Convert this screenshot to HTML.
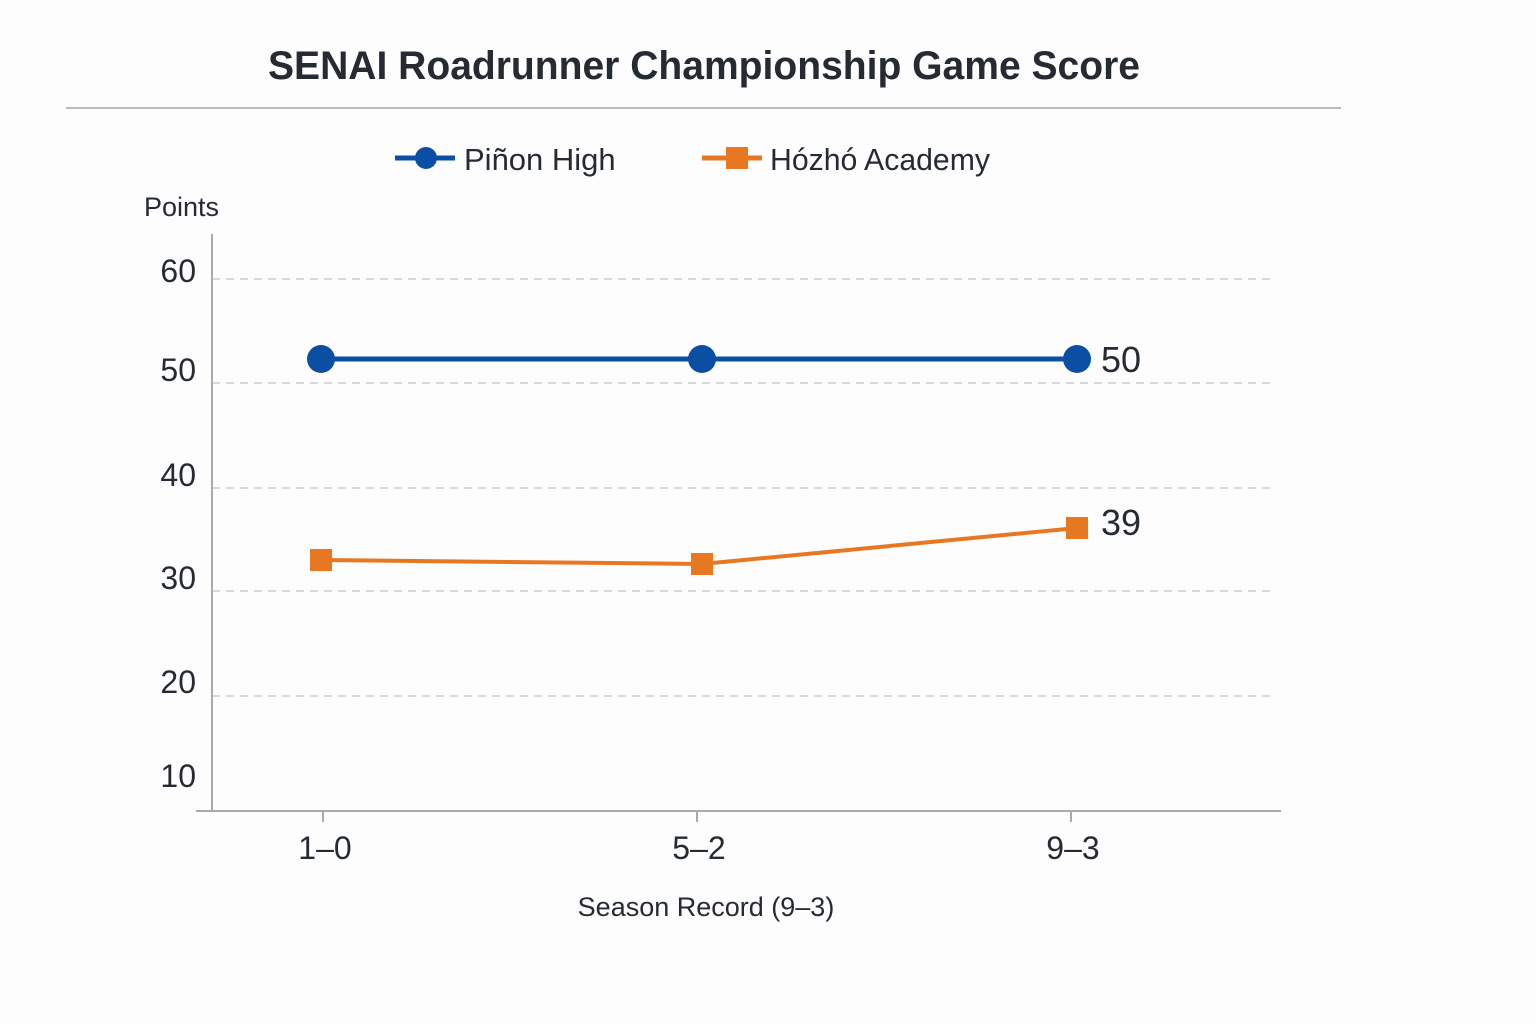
<!DOCTYPE html>
<html><head><meta charset="utf-8"><style>
html,body{margin:0;padding:0;background:#fdfdfd;}
svg{display:block;font-family:"Liberation Sans",sans-serif;}
</style></head><body>
<svg width="1536" height="1024" viewBox="0 0 1536 1024">
<rect width="1536" height="1024" fill="#fdfdfd"/>
<text x="268" y="79" font-size="40" font-weight="bold" fill="#262b33" textLength="872" lengthAdjust="spacingAndGlyphs">SENAI Roadrunner Championship Game Score</text>
<line x1="66" y1="108" x2="1341" y2="108" stroke="#bbb" stroke-width="2"/>
<line x1="395" y1="158" x2="455" y2="158" stroke="#0a4fa3" stroke-width="5"/>
<circle cx="426" cy="158" r="11" fill="#0a4fa3"/>
<text x="464" y="170" font-size="31" fill="#262b33">Piñon High</text>
<line x1="702" y1="158" x2="762" y2="158" stroke="#e87722" stroke-width="5"/>
<rect x="726" y="147" width="22" height="22" fill="#e87722"/>
<text x="770" y="170" font-size="31" fill="#262b33" textLength="220" lengthAdjust="spacingAndGlyphs">Hózhó Academy</text>
<text x="144" y="216" font-size="27" fill="#262b33">Points</text>
<g stroke="#ccc" stroke-width="1.5" stroke-dasharray="8,6">
<line x1="212" y1="279" x2="1272" y2="279"/><line x1="212" y1="383" x2="1272" y2="383"/>
<line x1="212" y1="488" x2="1272" y2="488"/><line x1="212" y1="591" x2="1272" y2="591"/>
<line x1="212" y1="696" x2="1272" y2="696"/>
</g>
<line x1="212" y1="234" x2="212" y2="811" stroke="#aaa" stroke-width="2"/>
<line x1="196" y1="811" x2="1281" y2="811" stroke="#aaa" stroke-width="2"/>
<g stroke="#aaa" stroke-width="2"><line x1="323" y1="811" x2="323" y2="822"/><line x1="697" y1="811" x2="697" y2="822"/><line x1="1071" y1="811" x2="1071" y2="822"/></g>
<g font-size="32" fill="#262b33" text-anchor="end">
<text x="196" y="282">60</text><text x="196" y="381">50</text><text x="196" y="486">40</text>
<text x="196" y="589">30</text><text x="196" y="693">20</text><text x="196" y="787">10</text>
</g>
<g font-size="32" fill="#262b33" text-anchor="middle">
<text x="325" y="859">1–0</text><text x="699" y="859">5–2</text><text x="1073" y="859">9–3</text>
</g>
<text x="706" y="916" text-anchor="middle" font-size="27" fill="#262b33">Season Record (9–3)</text>
<polyline points="321,359 702,359 1077,359" fill="none" stroke="#0a4fa3" stroke-width="5"/>
<circle cx="321" cy="359" r="14" fill="#0a4fa3"/><circle cx="702" cy="359" r="14" fill="#0a4fa3"/><circle cx="1077" cy="359" r="14" fill="#0a4fa3"/>
<polyline points="321,560 702,564 1077,528" fill="none" stroke="#e87722" stroke-width="4"/>
<rect x="310" y="549" width="22" height="22" fill="#e87722"/><rect x="691" y="553" width="22" height="22" fill="#e87722"/><rect x="1066" y="517" width="22" height="22" fill="#e87722"/>
<text x="1101" y="372" font-size="36" fill="#262b33">50</text>
<text x="1101" y="535" font-size="36" fill="#262b33">39</text>
</svg>
</body></html>
